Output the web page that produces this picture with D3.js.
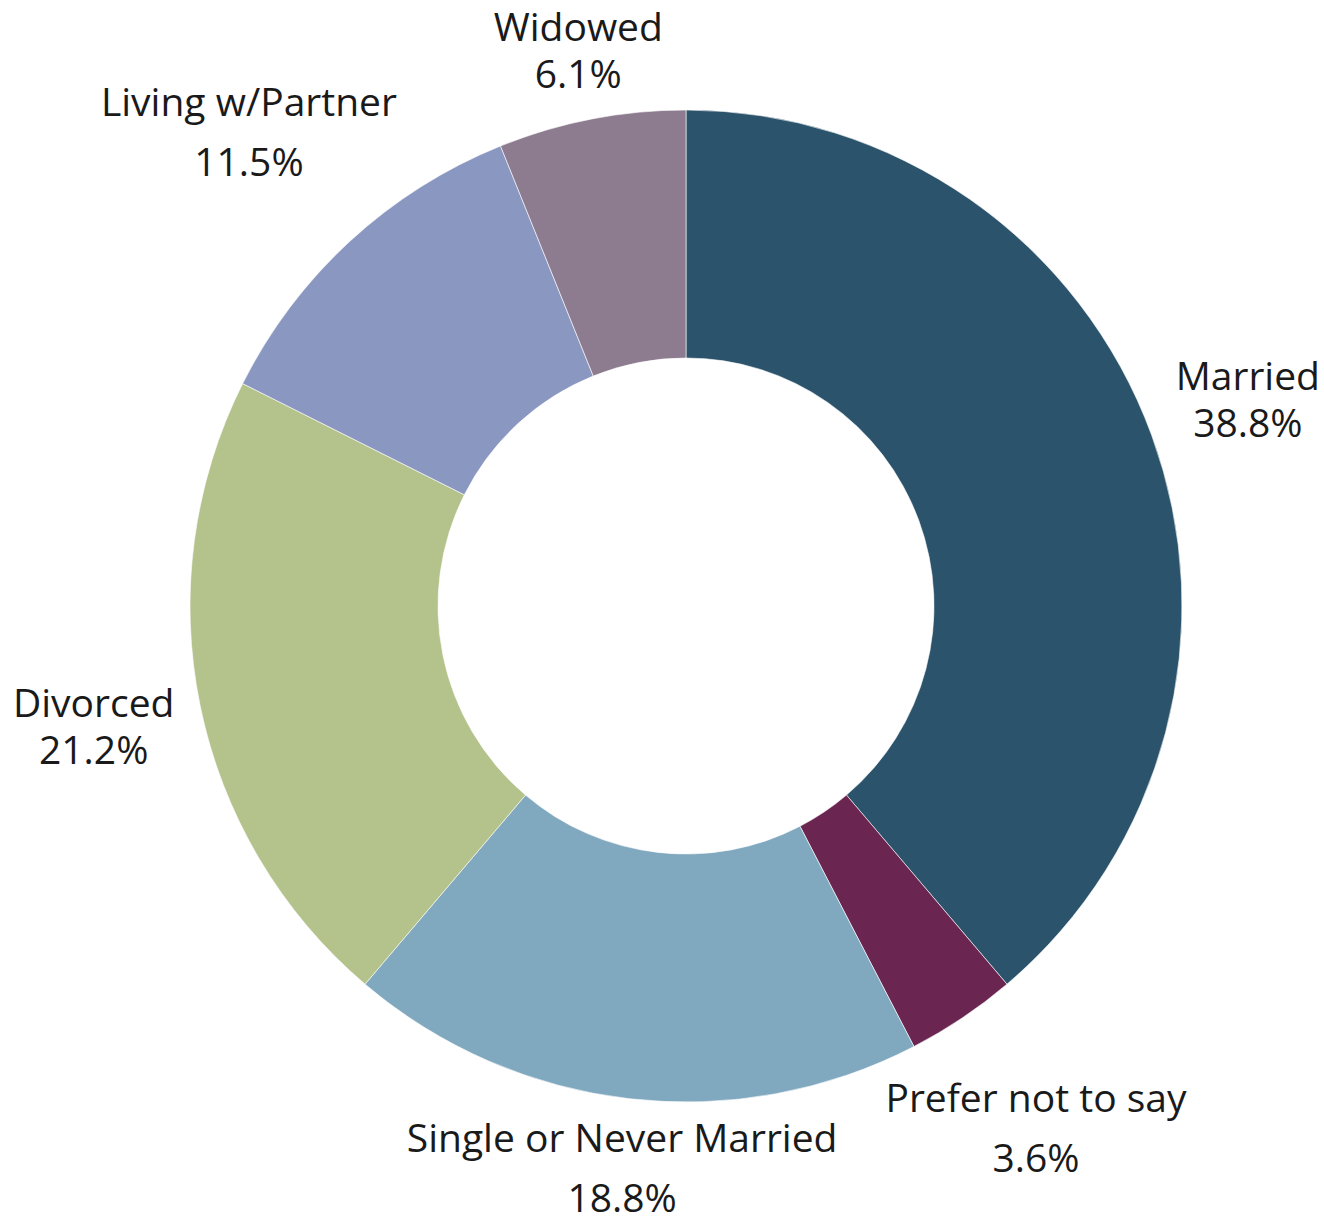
<!DOCTYPE html>
<html>
<head>
<meta charset="utf-8">
<script src="https://cdn.jsdelivr.net/npm/d3@7"></script>
<style>
  body { margin: 0; background: #fff; }
  svg { display: block; }
</style>
</head>
<body>
<svg id="chart" width="1324" height="1219"></svg>
<script>
// DATA
var categories = ['Married', 'Prefer not to say', 'Single or Never Married', 'Divorced', 'Living w/Partner', 'Widowed'];
var shares = [38.8, 3.6, 18.8, 21.2, 11.5, 6.1];
var colors = ['#2b536b', '#6a2650', '#80a8bf', '#b4c28c', '#8a97c1', '#8d7b8f'];

// LAYOUT
var width = 1324, height = 1219;
var cx = 686, cy = 606;
var outerR = 496, innerR = 248;
var labelDist = 518;   // nearest point of a label box from the centre
var fontSize = 39;

var svg = d3.select('#chart');
var g = svg.append('g').attr('transform', 'translate(' + cx + ',' + cy + ')');

var data = categories.map(function(c, i) { return { name: c, value: shares[i], color: colors[i] }; });

var pie = d3.pie().value(function(d) { return d.value; }).sort(null);
var arc = d3.arc().innerRadius(innerR).outerRadius(outerR);
var arcs = pie(data);

// Slices
g.selectAll('path.slice')
  .data(arcs)
  .enter().append('path')
  .attr('class', 'slice')
  .attr('d', arc)
  .style('fill', function(d) { return d.data.color; })
  .style('stroke', 'rgba(255,255,255,0.6)')
  .style('stroke-width', 1);

// Labels: box centred on the mid-angle ray, pushed out until clear of the ring
arcs.forEach(function(a) {
  var mid = (a.startAngle + a.endAngle) / 2;
  var dx = Math.sin(mid), dy = -Math.cos(mid);
  var lineGap = a.data.name.length > 10 ? 60 : 47;

  var lab = g.append('g').attr('class', 'label');
  var t1 = lab.append('text').text(a.data.name);
  var t2 = lab.append('text').text(d3.format('.1f')(a.data.value) + '%');
  lab.selectAll('text')
     .attr('text-anchor', 'middle')
     .style('font-family', '"Open Sans", sans-serif')
     .style('font-size', fontSize + 'px')
     .style('fill', '#1a1a1a');

  var w = Math.max(t1.node().getComputedTextLength(), t2.node().getComputedTextLength());
  var capH = fontSize * 0.714;
  var h = capH + lineGap;

  var t = 0, bx, by;
  for (t = 0; t < 1000; t += 0.5) {
    bx = t * dx; by = t * dy;
    var nx = Math.max(bx - w / 2, Math.min(0, bx + w / 2));
    var ny = Math.max(by - h / 2, Math.min(0, by + h / 2));
    if (Math.sqrt(nx * nx + ny * ny) >= labelDist) break;
  }
  var top = by - h / 2;
  t1.attr('x', bx).attr('y', top + capH);
  t2.attr('x', bx).attr('y', top + capH + lineGap);
});
</script>
</body>
</html>
